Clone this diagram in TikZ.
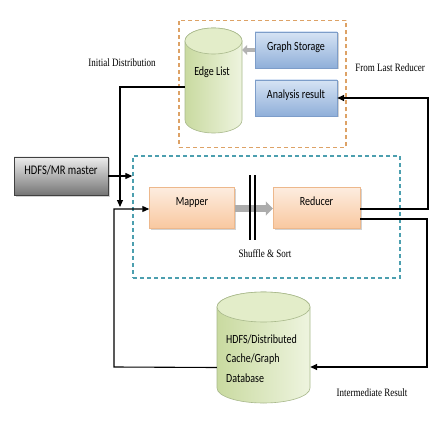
\documentclass[tikz,border=0pt]{standalone}
\usepackage{fontspec}
\usepackage{graphicx}
\setmainfont{Carlito}
\newfontfamily\lblfont{Liberation Serif}
\usetikzlibrary{arrows.meta,shadows,calc}
\newcommand{\tl}[1]{\scalebox{1}[1.25]{#1}}
\definecolor{bluetop}{HTML}{D6E3F4}
\definecolor{bluebot}{HTML}{8FAFD9}
\definecolor{blueline}{HTML}{7D9DC9}
\definecolor{ortop}{HTML}{FDEDE0}
\definecolor{orbot}{HTML}{F9C8A0}
\definecolor{orline}{HTML}{EDB88C}
\definecolor{grtop}{HTML}{EDEDED}
\definecolor{grbot}{HTML}{757575}
\definecolor{cyldark}{HTML}{C9DAA0}
\definecolor{cyllight}{HTML}{EEF4DF}
\definecolor{cyltop}{HTML}{E3EDC9}
\definecolor{cylline}{HTML}{A9B98C}
\definecolor{dashor}{HTML}{DDA266}
\definecolor{dashteal}{HTML}{4C9FAF}
\tikzset{
  bluebox/.style={rectangle, draw=blueline, top color=bluetop, bottom color=bluebot,
    minimum width=82pt, minimum height=36pt, font=\fontsize{10}{12}\selectfont,
    text height=8pt, text depth=6pt,
    drop shadow={shadow xshift=1.5pt, shadow yshift=-1.5pt, opacity=0.35}},
  orbox/.style={rectangle, draw=orline, top color=ortop, bottom color=orbot,
    minimum width=85pt, minimum height=41pt, font=\fontsize{10}{12}\selectfont,
    text height=8pt, text depth=13pt,
    drop shadow={shadow xshift=1.5pt, shadow yshift=-1.5pt, opacity=0.35}},
  graybox/.style={rectangle, draw=black!75, top color=grtop, bottom color=grbot,
    minimum width=94pt, minimum height=38pt, font=\fontsize{10.5}{12}\selectfont,
    text height=8pt, text depth=10pt,
    drop shadow={shadow xshift=1.5pt, shadow yshift=-1.5pt, opacity=0.35}},
  dashbox/.style={rectangle, dashed, line width=1.3pt, dash pattern=on 4pt off 3pt},
  lbl/.style={font=\lblfont\fontsize{9}{11}\selectfont},
  conn/.style={line width=1.1pt, draw=black},
  arr/.style={conn, -{Triangle[length=7pt,width=6pt]}},
  fatarrow/.style={line width=7pt, draw=gray!65, -{Triangle[length=7pt,width=14pt]}},
  cyltext/.style={font=\fontsize{10}{12}\selectfont}
}
\begin{document}
\begin{tikzpicture}[x=1pt,y=-1pt]
\useasboundingbox (0,0) rectangle (441,422);
\fill[white] (0,0) rectangle (441,422);

% dashed containers
\node[dashbox, draw=dashor, minimum width=167pt, minimum height=127pt] (store) at (262.5,84) {};
\node[dashbox, draw=dashteal, minimum width=267pt, minimum height=122pt] (proc) at (266.5,217) {};

% Edge List cylinder
\shade[left color=cyldark, right color=cyllight, draw=cylline, line width=0.6pt]
  (185,41) -- (185,120) arc (180:360:28.5pt and 13pt) -- (242,41) arc (0:180:28.5pt and 13pt) -- cycle;
\filldraw[fill=cyltop, draw=cylline, line width=0.6pt] (213.5,41) ellipse (28.5pt and 13pt);
\node[minimum width=57pt, minimum height=105pt, inner sep=0pt] (el) at (213.5,80.5) {};
\node[cyltext] (elt) at (212,72) {\tl{Edge List}};

% blue boxes
\node[bluebox] (gs) at (296,50) {\tl{Graph Storage}};
\node[bluebox] (ar) at (296,98) {\tl{Analysis result}};
\draw[line width=4pt, draw=gray!60, -{Triangle[length=5pt,width=10pt]}] (gs.west) -- (el.east |- gs.west);

% HDFS/MR master
\node[graybox] (hdfs) at (61,176) {\tl{HDFS/MR master}};

% mapper / reducer
\node[orbox] (map) at (192,207.5) {\tl{Mapper}};
\node[orbox, minimum width=87pt] (red) at (316.5,207.5) {\tl{Reducer}};
\draw[fatarrow] ([yshift=-1pt]map.east) -- ([yshift=-1pt]red.west);
\draw[line width=1.1pt] (250,175) -- (250,240) (255,175) -- (255,240);
\node[lbl] (shuf) at (265,254) {\tl{Shuffle \& Sort}};

% Bottom cylinder
\shade[left color=cyldark, right color=cyllight, draw=cylline, line width=0.6pt]
  (217,307) -- (217,388) arc (180:360:46.5pt and 15pt) -- (310,307) arc (0:180:46.5pt and 15pt) -- cycle;
\filldraw[fill=cyltop, draw=cylline, line width=0.6pt] (263.5,307) ellipse (46.5pt and 15pt);
\node[minimum width=93pt, minimum height=111pt, inner sep=0pt] (db) at (263.5,347.5) {};
\node[cyltext, anchor=west, inner sep=0pt] (dbt) at (226,359)
  {\tl{\fontsize{10}{15.6}\selectfont\begin{tabular}{@{}l@{}}HDFS/Distributed\\Cache/Graph\\Database\end{tabular}}};

% labels
\node[lbl] (l1) at (122,63) {\tl{Initial Distribution}};
\node[lbl] (l2) at (390,68) {\tl{From Last Reducer}};
\node[lbl] (l3) at (372,393) {\tl{Intermediate Result}};

% connectors
\coordinate (c1) at (120,87);
\coordinate (c2) at (114,367);
\coordinate (c3) at (428,209);
\coordinate (c4) at (427,219);
\draw[arr] ([yshift=-6.5pt]el.west) -- (c1) -- (120,207);
\draw[arr] ([yshift=-20pt]db.west) -- (c2) |- ([yshift=-1.5pt]map.west);
\draw[arr] (hdfs.east) -- (hdfs.east -| proc.west);
\draw[arr, line width=1.5pt] ([yshift=-1.5pt]red.east) -- (c3) |- (ar.east);
\draw[arr, line width=1.5pt] ([yshift=-11.5pt]red.east) -- (c4) |- ([yshift=-19.5pt]db.east);
\end{tikzpicture}
\end{document}
